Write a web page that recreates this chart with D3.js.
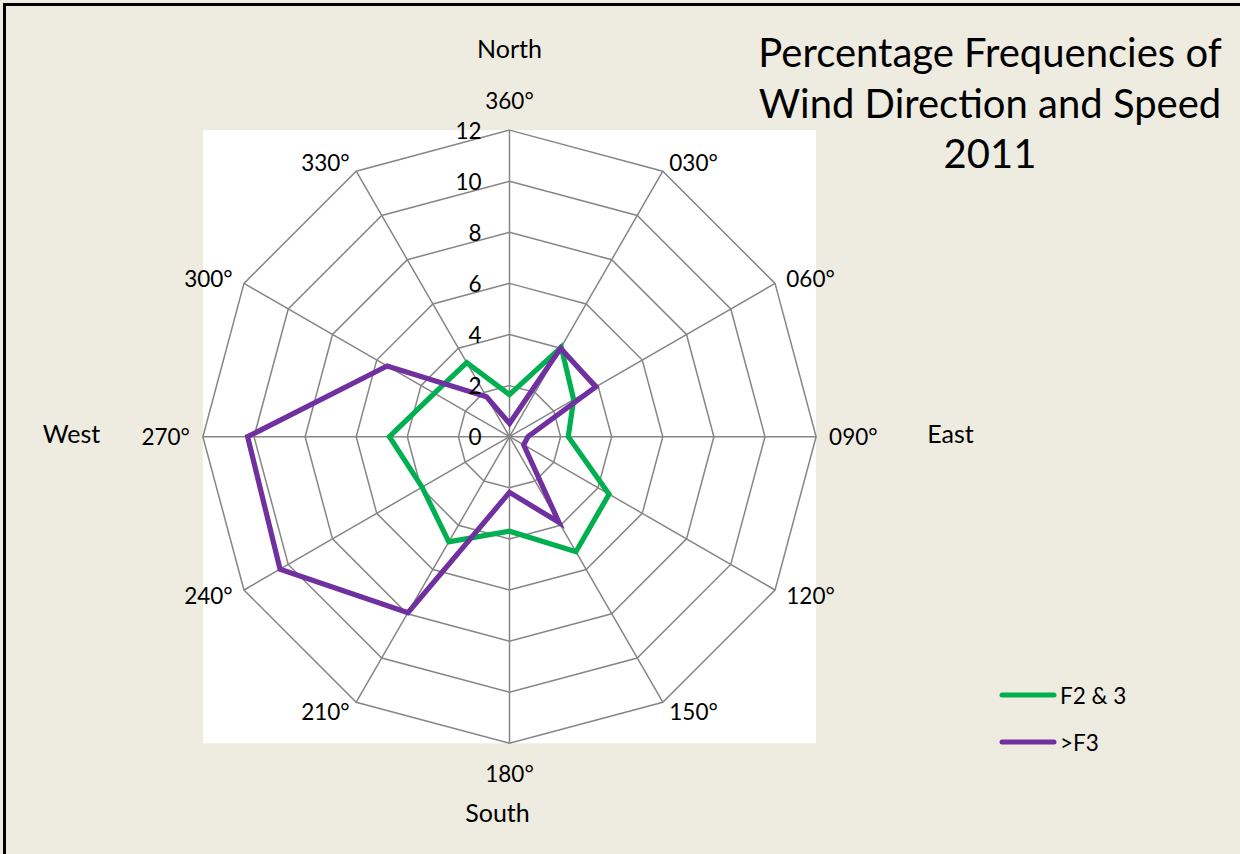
<!DOCTYPE html>
<html><head><meta charset="utf-8">
<script src="https://cdn.jsdelivr.net/npm/d3@7"></script>
<style>
html,body{margin:0;padding:0;background:#EEEBE0;}
svg{display:block;font-family:Lato,"Open Sans",sans-serif;}
</style></head>
<body>
<svg id="chart" width="1240" height="854"></svg>
<script>
const directions = ["360°","030°","060°","090°","120°","150°","180°","210°","240°","270°","300°","330°"];
const seriesNames = ["F2 & 3", ">F3"];
const seriesColors = ["#00B050", "#7030A0"];
const f23Values = [1.65, 4.05, 2.9, 2.3, 4.5, 5.2, 3.7, 4.75, 3.95, 4.7, 3.4, 3.35];
const gtF3Values = [0.52, 4.0, 3.9, 0.72, 0.64, 3.87, 2.18, 7.95, 10.37, 10.25, 5.53, 1.8];
const tickValues = [0, 2, 4, 6, 8, 10, 12];
const compassLabels = ["North", "East", "South", "West"];
const titleLines = ["Percentage Frequencies of", "Wind Direction and Speed", "2011"];

const svg = d3.select("#chart");
const W = 1240, H = 854;
const cx = 509.5, cy = 436.7, R = 306.6;

svg.append("rect").attr("x", 0).attr("y", 0).attr("width", W).attr("height", H).attr("fill", "#EEEBE0");
svg.append("rect").attr("x", 4.5).attr("y", 4.5).attr("width", W + 20).attr("height", H + 20)
  .attr("fill", "none").attr("stroke", "#000").attr("stroke-width", 3);

// plot area
svg.append("rect").attr("x", cx - R).attr("y", cy - R).attr("width", 2 * R).attr("height", 2 * R).attr("fill", "#fff");

const r = d3.scaleLinear().domain([0, 12]).range([0, R]);
const ang = d => directions.indexOf(d) * 2 * Math.PI / directions.length;
const pt = (a, v) => [cx + r(v) * Math.sin(a), cy - r(v) * Math.cos(a)];

const g = svg.append("g");
// rings
tickValues.filter(t => t > 0).forEach(t => {
  const pts = directions.map(d => pt(ang(d), t));
  g.append("path").attr("d", d3.line()(pts) + "Z").attr("fill", "none").attr("stroke", "#868686").attr("stroke-width", 1.5);
});
// spokes
directions.forEach(d => {
  const [x, y] = pt(ang(d), 12);
  g.append("line").attr("x1", cx).attr("y1", cy).attr("x2", x).attr("y2", y).attr("stroke", "#868686").attr("stroke-width", 1.5);
});

// series
const lineGen = d3.lineRadial().angle((v, i) => ang(directions[i])).radius(v => r(v)).curve(d3.curveLinearClosed);
[f23Values, gtF3Values].forEach((vals, k) => {
  svg.append("path").attr("transform", `translate(${cx},${cy})`).attr("d", lineGen(vals))
    .attr("fill", "none").attr("stroke", seriesColors[k]).attr("stroke-width", 5.2).attr("stroke-linejoin", "miter");
});

// tick labels
tickValues.forEach(t => {
  svg.append("text").attr("x", cx - 28).attr("y", cy - r(t)).attr("text-anchor", "end")
    .attr("dominant-baseline", "central").attr("font-size", 22.5).attr("fill", "#000").text(t);
});

// direction labels
directions.forEach(d => {
  const a = ang(d);
  const s = Math.sin(a), c = Math.cos(a);
  const [vx, vy] = pt(a, 12);
  const anchor = s > 0.1 ? "start" : (s < -0.1 ? "end" : "middle");
  const dx = 13 * s;
  const dy = Math.abs(s) < 0.01 ? -c * 30 : -c * 10.5;
  svg.append("text").attr("x", vx + dx).attr("y", vy + dy).attr("text-anchor", anchor)
    .attr("dominant-baseline", "central").attr("font-size", 22.5).attr("fill", "#000").text(d);
});

// compass labels
const compassPos = { "North": [cx, 48], "South": [cx - 12, 812], "East": [cx + 441, 433], "West": [cx - 438, 433] };
compassLabels.forEach(name => {
  const [x, y] = compassPos[name];
  svg.append("text").attr("x", x).attr("y", y).attr("text-anchor", "middle").attr("dominant-baseline", "central")
    .attr("font-size", 25).attr("fill", "#000").text(name);
});

// title
titleLines.forEach((t, i) => {
  svg.append("text").attr("x", 990).attr("y", 67 + i * 50.5).attr("text-anchor", "middle")
    .attr("font-size", 40).attr("fill", "#000").text(t);
});

// legend
seriesNames.forEach((n, i) => {
  const y = 695 + i * 47;
  svg.append("line").attr("x1", 1002).attr("x2", 1054).attr("y1", y).attr("y2", y)
    .attr("stroke", seriesColors[i]).attr("stroke-width", 5).attr("stroke-linecap", "round");
  svg.append("text").attr("x", 1060).attr("y", y).attr("dominant-baseline", "central")
    .attr("font-size", 22.5).attr("fill", "#000").text(n);
});
</script>
</body></html>
